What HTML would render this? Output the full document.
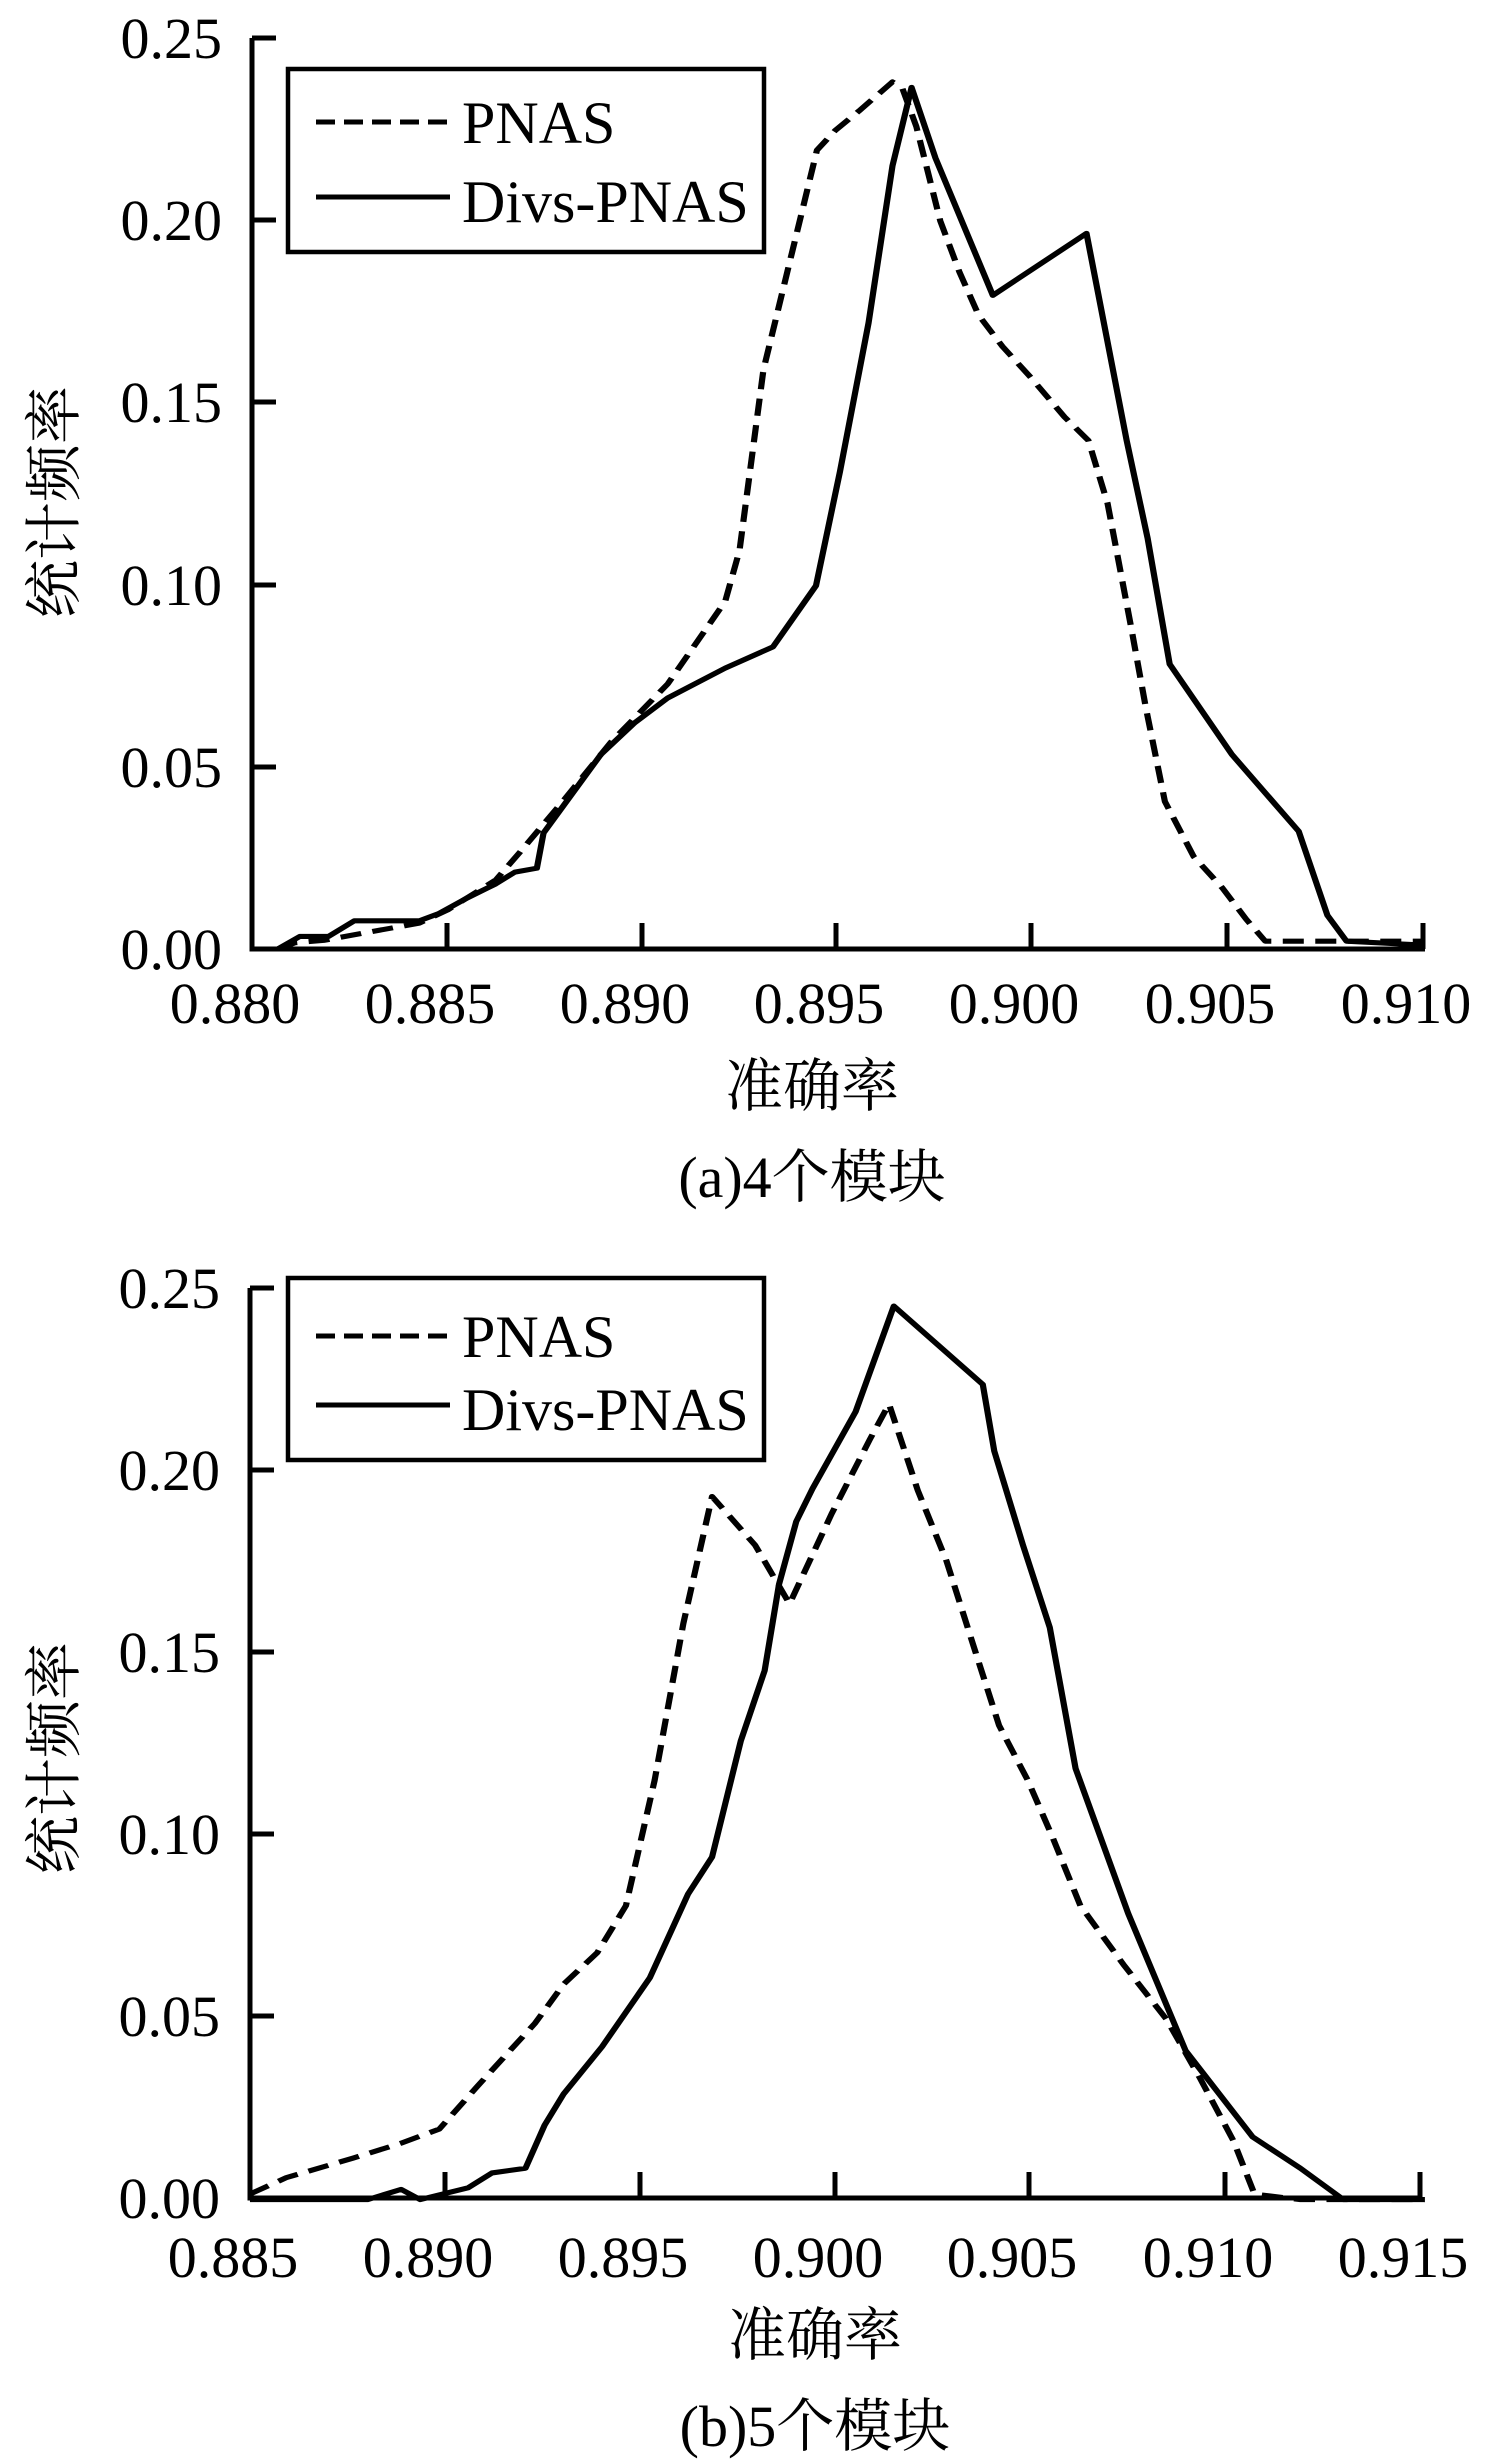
<!DOCTYPE html>
<html><head><meta charset="utf-8"><style>
html,body{margin:0;padding:0;background:#fff}
svg{display:block}
.t{font-family:"Liberation Serif","Noto Serif CJK SC",serif;fill:#000}
</style></head><body>
<svg width="1491" height="2460" viewBox="0 0 1491 2460" xmlns="http://www.w3.org/2000/svg">
<!-- ===== Chart A ===== -->
<g stroke="#000" stroke-width="5" fill="none">
<path d="M252 38 V949 H1425"/>
<path d="M252 38 h24 M252 220 h24 M252 402 h24 M252 585 h24 M252 767 h24"/>
<path d="M447 949 v-26 M642 949 v-26 M836 949 v-26 M1031 949 v-26 M1227 949 v-26 M1423 949 v-26"/>
<rect x="288" y="69" width="476" height="183" stroke-width="4.5"/>
<path d="M316 122 H450" stroke-dasharray="19 9"/>
<path d="M316 197 H450"/>
</g>
<g class="t" font-size="58" text-anchor="end">
<text x="222" y="58">0.25</text><text x="222" y="240">0.20</text><text x="222" y="422">0.15</text>
<text x="222" y="605">0.10</text><text x="222" y="787">0.05</text><text x="222" y="969">0.00</text>
</g>
<g class="t" font-size="58" text-anchor="middle">
<text x="235" y="1023">0.880</text><text x="430" y="1023">0.885</text><text x="625" y="1023">0.890</text>
<text x="819" y="1023">0.895</text><text x="1014" y="1023">0.900</text><text x="1210" y="1023">0.905</text><text x="1406" y="1023">0.910</text>
</g>
<text class="t" font-size="60" x="462" y="143">PNAS</text>
<text class="t" font-size="60" x="462" y="222">Divs-PNAS</text>
<text class="t" font-size="58" x="812" y="1106" text-anchor="middle">准确率</text>
<text class="t" font-size="58" x="812" y="1197" text-anchor="middle">(a)4个模块</text>
<text class="t" font-size="58" transform="translate(74,502) rotate(-90)" text-anchor="middle">统计频率</text>
<g transform="matrix(0.9559 0 0 0.7847 -1.3 1.1)" fill="none" stroke="#000" stroke-width="6.5" stroke-linejoin="round">
<polyline stroke-dasharray="22 12" points="292,1208 310,1200 340,1197 380,1188 440,1175 470,1158 520,1120 545,1085 590,1020 640,945 700,870 760,765 775,700 800,470 830,320 856,190 875,165 900,140 935,103 945,110 960,160 985,280 1005,345 1025,400 1050,440 1080,480 1115,530 1140,560 1160,640 1185,800 1200,900 1220,1020 1250,1090 1280,1130 1305,1170 1325,1198 1400,1198 1490,1198"/>
<polyline points="292,1208 315,1192 345,1192 372,1172 440,1172 460,1163 490,1143 520,1125 540,1110 563,1105 570,1060 600,1010 630,960 665,920 700,888 760,850 810,823 855,745 880,600 910,410 935,210 955,110 980,200 1040,375 1138,296 1180,560 1202,685 1225,845 1290,960 1360,1058 1390,1165 1410,1198 1490,1203"/>
</g>
<!-- ===== Chart B ===== -->
<g stroke="#000" stroke-width="5" fill="none">
<path d="M250 1288 V2198 H1422"/>
<path d="M250 1288 h24 M250 1470 h24 M250 1652 h24 M250 1834 h24 M250 2016 h24"/>
<path d="M445 2198 v-26 M640 2198 v-26 M835 2198 v-26 M1029 2198 v-26 M1225 2198 v-26 M1420 2198 v-26"/>
<rect x="288" y="1278" width="476" height="182" stroke-width="4.5"/>
<path d="M316 1336 H450" stroke-dasharray="19 9"/>
<path d="M316 1405 H450"/>
</g>
<g class="t" font-size="58" text-anchor="end">
<text x="220" y="1308">0.25</text><text x="220" y="1490">0.20</text><text x="220" y="1672">0.15</text>
<text x="220" y="1854">0.10</text><text x="220" y="2036">0.05</text><text x="220" y="2218">0.00</text>
</g>
<g class="t" font-size="58" text-anchor="middle">
<text x="233" y="2277">0.885</text><text x="428" y="2277">0.890</text><text x="623" y="2277">0.895</text>
<text x="818" y="2277">0.900</text><text x="1012" y="2277">0.905</text><text x="1208" y="2277">0.910</text><text x="1403" y="2277">0.915</text>
</g>
<text class="t" font-size="60" x="462" y="1357">PNAS</text>
<text class="t" font-size="60" x="462" y="1430">Divs-PNAS</text>
<text class="t" font-size="58" x="815" y="2355" text-anchor="middle">准确率</text>
<text class="t" font-size="58" x="815" y="2446" text-anchor="middle">(b)5个模块</text>
<text class="t" font-size="58" transform="translate(74,1758) rotate(-90)" text-anchor="middle">统计频率</text>
<g transform="matrix(0.9567 0 0 0.7838 -0.7 1231.6)" fill="none" stroke="#000" stroke-width="6.5" stroke-linejoin="round">
<polyline stroke-dasharray="22 12" points="262,1228 300,1207 370,1182 420,1163 460,1145 500,1090 560,1010 590,960 625,920 655,860 685,700 715,500 745,338 790,400 826,475 870,360 910,265 930,220 960,330 990,420 1020,535 1045,630 1075,700 1100,770 1130,860 1175,935 1220,1005 1255,1080 1290,1160 1312,1228 1360,1235 1490,1235"/>
<polyline points="262,1235 385,1235 420,1222 440,1235 490,1220 515,1201 550,1195 570,1140 590,1100 630,1040 680,952 720,845 745,798 775,650 800,560 815,450 833,370 850,328 895,230 935,95 1028,195 1040,280 1070,400 1098,505 1125,685 1180,870 1240,1045 1310,1155 1360,1195 1405,1235 1490,1235"/>
</g>
</svg>
</body></html>
